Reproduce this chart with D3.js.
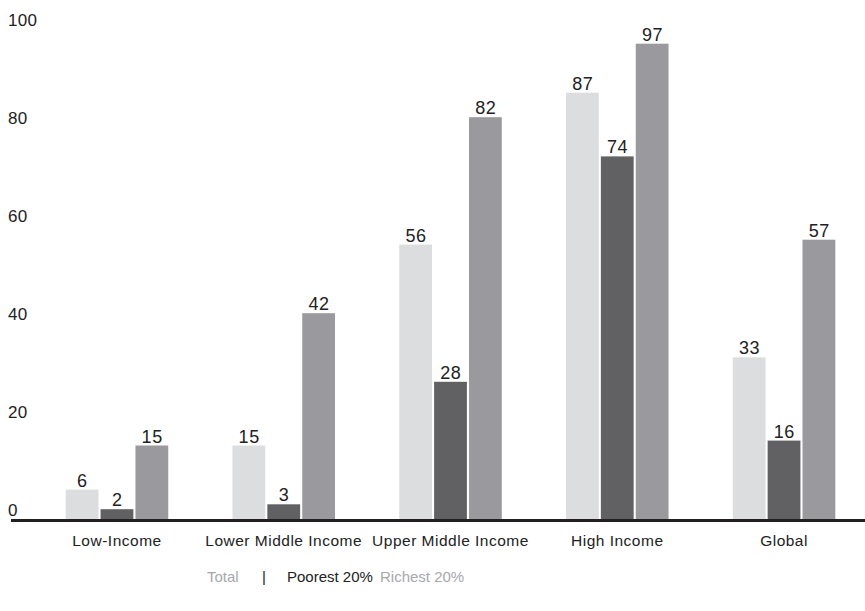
<!DOCTYPE html>
<html>
<head>
<meta charset="utf-8">
<script src="https://cdn.jsdelivr.net/npm/d3@7"></script>
<style>
  body { margin: 0; background: #fff; }
  svg text { font-family: "Liberation Sans", Arial, Helvetica, sans-serif; }
</style>
</head>
<body>
<svg id="chart" width="865" height="611"></svg>
<script>
// Data
var categories = ['Low-Income', 'Lower Middle Income', 'Upper Middle Income', 'High Income', 'Global'];
var seriesNames = ['Total', 'Poorest 20%', 'Richest 20%'];
var totalValues = [6, 15, 56, 87, 33];
var poorestValues = [2, 3, 28, 74, 16];
var richestValues = [15, 42, 82, 97, 57];
var yTicks = [0, 20, 40, 60, 80, 100];

var colors = ['#dcdddf', '#616163', '#9a9a9e'];

var width = 865;
var height = 611;

var svg = d3.select('#chart');

// Scales
var x = d3.scaleBand()
    .domain(categories)
    .range([34, 867])
    .paddingInner(0.385)
    .paddingOuter(0.19);

var x1 = d3.scaleBand()
    .domain(seriesNames)
    .range([0, x.bandwidth()])
    .paddingInner(0.06);

var y = d3.scaleLinear()
    .domain([0, 100])
    .range([519, 29]);

// Y tick labels (no axis line, labels sit above the value)
svg.append('g')
    .attr('class', 'y-labels')
    .selectAll('text')
    .data(yTicks)
    .enter().append('text')
    .attr('x', 8)
    .attr('y', function(d) { return y(d) - 3; })
    .style('font-size', '17px')
    .style('letter-spacing', '0.3px')
    .style('fill', '#222')
    .text(function(d) { return d; });

// Build rows
var rows = categories.map(function(c, i) {
    return { cat: c, values: [totalValues[i], poorestValues[i], richestValues[i]] };
});

var groups = svg.append('g')
    .attr('class', 'bars')
    .selectAll('g')
    .data(rows)
    .enter().append('g')
    .attr('transform', function(d) { return 'translate(' + x(d.cat) + ',0)'; });

var cells = groups.selectAll('g')
    .data(function(d) {
        return d.values.map(function(v, j) { return { key: seriesNames[j], value: v, idx: j }; });
    })
    .enter().append('g');

cells.append('rect')
    .attr('x', function(d) { return x1(d.key); })
    .attr('y', function(d) { return y(d.value); })
    .attr('width', x1.bandwidth())
    .attr('height', function(d) { return y(0) - y(d.value); })
    .style('fill', function(d) { return colors[d.idx]; });

// value labels
cells.append('text')
    .attr('x', function(d) { return x1(d.key) + x1.bandwidth() / 2 + 0.3; })
    .attr('y', function(d) { return y(d.value) - 3; })
    .attr('text-anchor', 'middle')
    .style('font-size', '18px')
    .style('letter-spacing', '0.5px')
    .style('fill', '#222')
    .text(function(d) { return d.value; });

// Baseline
svg.append('line')
    .attr('x1', 11)
    .attr('x2', 865)
    .attr('y1', y(0) + 1.5)
    .attr('y2', y(0) + 1.5)
    .style('stroke', '#231f20')
    .style('stroke-width', 3);

// Category labels
svg.append('g')
    .attr('class', 'x-labels')
    .selectAll('text')
    .data(categories)
    .enter().append('text')
    .attr('x', function(d) { return x(d) + x.bandwidth() / 2; })
    .attr('y', 546)
    .attr('text-anchor', 'middle')
    .style('font-size', '15.5px')
    .style('letter-spacing', '0.5px')
    .style('fill', '#222')
    .text(function(d) { return d; });

// Legend
var legend = svg.append('text')
    .attr('x', 207)
    .attr('y', 582)
    .style('font-size', '15px');

legend.append('tspan').style('fill', '#a7a8aa').text('Total');
legend.append('tspan').attr('x', 262).style('fill', '#222').text('|');
legend.append('tspan').attr('x', 287).style('fill', '#222').text('Poorest 20%');
legend.append('tspan').attr('x', 380).style('fill', '#a7a8aa').text('Richest 20%');
</script>
</body>
</html>
